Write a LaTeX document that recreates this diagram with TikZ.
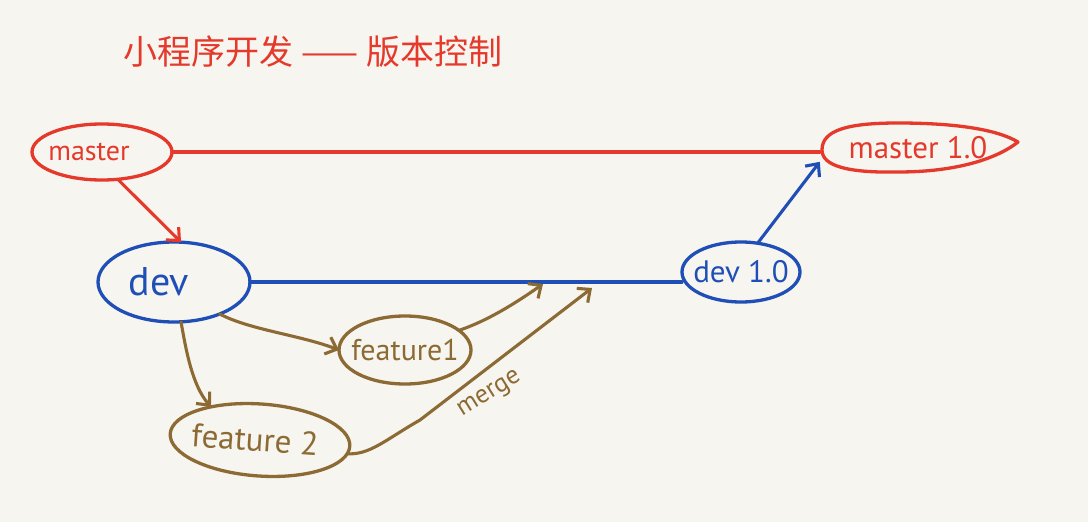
\documentclass[tikz,border=0pt]{standalone}
\usepackage{fontspec}
\setmainfont{PT Sans}
\newfontfamily\cjk{Noto Sans CJK SC}
\usetikzlibrary{arrows.meta,shapes.geometric}
\definecolor{bg}{HTML}{F7F5F0}
\definecolor{rd}{HTML}{E5392B}
\definecolor{bl}{HTML}{1F4FB6}
\definecolor{br}{HTML}{8C6A34}
\newcommand{\zw}[1]{\makebox[0pt][c]{#1}}
\begin{document}
\begin{tikzpicture}[x=1pt,y=-1pt,
  blob/.style={ellipse, line width=3.3pt, inner sep=0pt, outer sep=0pt},
  barb/.style={-{Straight Barb[length=10pt,width=18pt]}},
  conn/.style={line width=3.1pt, line cap=round},
  fnt/.style={font=\fontsize{#1}{#1}\selectfont}]
\fill[bg] (0,0) rectangle (1088,522);
\useasboundingbox (0,0) rectangle (1088,522);
% title
\node[text=rd, font=\cjk\fontsize{34}{36}\selectfont] (title) at (313,52) {小程序开发 —— 版本控制};
% nodes
\node[blob, draw=rd, text=rd, minimum width=140pt, minimum height=56pt, fnt=28] (master) at (102,152) {\zw{\hspace*{-26pt}master}};
\node[draw=none, text=rd, minimum width=196pt, minimum height=50pt, fnt=31] (master1) at (918,148) {\zw{master 1.0}};
\begin{scope}[shift={(master1.center)}]
\draw[rd, line width=3.3pt, line join=round] (-96,2) .. controls (-96,-18) and (-70,-25) .. (-20,-25)
  .. controls (40,-25) and (80,-18) .. (100,-6)
  .. controls (80,10) and (40,24) .. (-20,24)
  .. controls (-70,25) and (-96,18) .. cycle;
\end{scope}
\node[blob, draw=bl, text=bl, minimum width=152pt, minimum height=80pt, fnt=40] (dev) at (174,282) {\zw{\hspace*{-30pt}dev}};
\node[blob, draw=bl, text=bl, minimum width=118pt, minimum height=60pt, fnt=31] (dev1) at (741,272) {\zw{dev 1.0}};
\node[blob, draw=br, text=br, minimum width=132pt, minimum height=68pt, fnt=30] (f1) at (405,350) {\zw{feature1}};
\node[blob, draw=br, text=br, minimum width=180pt, minimum height=72pt, fnt=33, rotate=-4] (f2) at (260,440) {\zw{\hspace*{-10pt}feature 2}};
\coordinate (m1) at (543,284);
\coordinate (m2) at (592,288);
% connectors
\draw[conn, rd] (master.east) -- (master.east -| master1.west);
\draw[conn, rd, barb] (master.-60) -- (dev.80);
\draw[conn, bl] (dev.east) -- (dev.east -| dev1.west);
\draw[conn, bl, barb] (dev1.60) -- (master1.-172);
\draw[conn, br, barb] (dev.-35) .. controls (250,330) and (300,335) .. (f1.west);
\draw[conn, br, barb] (dev.-80) .. controls (186,350) and (192,385) .. (f2.150);
\draw[conn, br, barb] (f1.20) .. controls (490,320) and (520,300) .. (m1);
\draw[conn, br, barb] (f2.-5) .. controls (370,455) and (385,440) .. (420,420) -- (m2);
\node[text=br, fnt=26, rotate=32] (mergelbl) at (490,395) {merge};
\end{tikzpicture}
\end{document}
